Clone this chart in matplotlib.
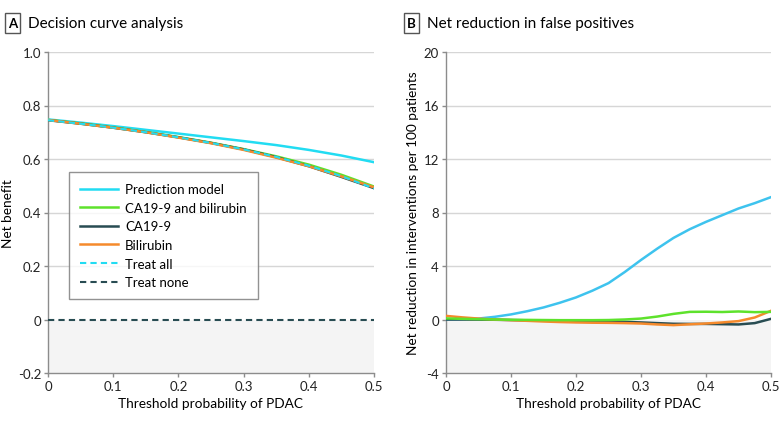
import matplotlib
matplotlib.use("Agg")
import matplotlib.pyplot as plt
from matplotlib.patches import Rectangle
import numpy as np

plt.rcParams['font.family'] = ['Lato', 'DejaVu Sans']

# threshold probabilities
thresh = [0, 0.05, 0.1, 0.15, 0.2, 0.25, 0.3, 0.35, 0.4, 0.45, 0.5]
thresh_b = [0, 0.025, 0.05, 0.075, 0.1, 0.125, 0.15, 0.175, 0.2, 0.225, 0.25,
            0.275, 0.3, 0.325, 0.35, 0.375, 0.4, 0.425, 0.45, 0.475, 0.5]

# Panel A: net benefit
nb_model = [0.748, 0.736, 0.723, 0.709, 0.695, 0.681, 0.667, 0.652, 0.634, 0.613, 0.588]
nb_combo = [0.746, 0.733, 0.718, 0.701, 0.682, 0.661, 0.637, 0.610, 0.579, 0.541, 0.497]
nb_ca199 = [0.745, 0.732, 0.717, 0.700, 0.681, 0.660, 0.636, 0.607, 0.573, 0.533, 0.491]
nb_bili = [0.746, 0.732, 0.717, 0.700, 0.680, 0.659, 0.634, 0.605, 0.573, 0.535, 0.494]
nb_all = [0.745, 0.732, 0.717, 0.700, 0.681, 0.660, 0.636, 0.608, 0.575, 0.536, 0.490]
nb_none = [0] * len(thresh)

# Panel B: net reduction in interventions per 100 patients
nr_model = [0.0, 0.02, 0.07, 0.2, 0.38, 0.62, 0.9, 1.25, 1.65, 2.15, 2.72,
            3.55, 4.45, 5.3, 6.1, 6.75, 7.3, 7.8, 8.3, 8.7, 9.15]
nr_combo = [0.08, 0.05, 0.02, 0.0, -0.02, -0.03, -0.04, -0.05, -0.05, -0.05, -0.04,
            0.0, 0.07, 0.22, 0.42, 0.57, 0.58, 0.56, 0.6, 0.55, 0.57]
nr_ca199 = [0.0, 0.0, -0.01, -0.02, -0.04, -0.06, -0.08, -0.1, -0.12, -0.13, -0.15,
            -0.18, -0.22, -0.27, -0.32, -0.33, -0.33, -0.35, -0.37, -0.27, 0.05]
nr_bili = [0.27, 0.16, 0.07, 0.0, -0.05, -0.1, -0.15, -0.19, -0.22, -0.24, -0.25,
           -0.27, -0.3, -0.37, -0.42, -0.36, -0.3, -0.22, -0.12, 0.15, 0.65]

c_model = '#22dcf2'
c_model_b = '#3ec3ee'
c_combo = '#5ee22c'
c_ca = '#284c52'
c_bili = '#f58a2c'
grid_c = '#d6d6d6'
spine_c = '#8c8c8c'

fig = plt.figure(figsize=(7.83, 4.31), dpi=100)
W, H = 783, 431
axA = fig.add_axes([48 / W, 1 - 374 / H, 326 / W, 321 / H])
axB = fig.add_axes([446 / W, 1 - 374 / H, 325 / W, 321 / H])


def style(ax, ymin, ymax, yticks, ylabels):
    ax.set_xlim(0, 0.5)
    ax.set_ylim(ymin, ymax)
    ax.axhspan(ymin, 0, color='#f4f4f4', zorder=0, lw=0)
    for yt in yticks:
        if yt != 0 and yt != ymin:
            ax.axhline(yt, color=grid_c, lw=1, zorder=1)
    ax.set_yticks(yticks)
    ax.set_yticklabels(ylabels)
    ax.set_xticks(thresh[::2])
    ax.set_xticklabels(['0', '0.1', '0.2', '0.3', '0.4', '0.5'])
    for s in ['top', 'right']:
        ax.spines[s].set_visible(False)
    for s in ['left', 'bottom']:
        ax.spines[s].set_color(spine_c)
        ax.spines[s].set_linewidth(1)
    ax.tick_params(colors='#222222', labelsize=9.5, length=3, width=1, color=spine_c, pad=2)
    ax.set_xlabel('Threshold probability of PDAC', fontsize=9.8, labelpad=4)


style(axA, -0.2, 1.0, [-0.2, 0, 0.2, 0.4, 0.6, 0.8, 1.0],
      ['-0.2', '0', '0.2', '0.4', '0.6', '0.8', '1.0'])
axA.plot(thresh, nb_model, color=c_model, lw=1.8, label='Prediction model', zorder=3)
axA.plot(thresh, nb_combo, color=c_combo, lw=1.8, label='CA19-9 and bilirubin', zorder=3)
axA.plot(thresh, nb_ca199, color=c_ca, lw=1.8, label='CA19-9', zorder=3)
axA.plot(thresh, nb_bili, color=c_bili, lw=1.8, label='Bilirubin', zorder=3)
axA.plot(thresh, nb_all, color=c_model, lw=1.5, ls=(0, (3, 2)), label='Treat all', zorder=4)
axA.plot(thresh, nb_none, color=c_ca, lw=1.5, ls=(0, (3, 2)), label='Treat none', zorder=4)
axA.set_ylabel('Net benefit', fontsize=9.8, labelpad=3)
leg = axA.legend(loc='lower left', bbox_to_anchor=(0.064, 0.229), fontsize=9.5,
                 frameon=True, fancybox=False, edgecolor='#777777', handlelength=2.9,
                 borderpad=0.85, labelspacing=0.5, handletextpad=0.5, borderaxespad=0)
leg.get_frame().set_linewidth(1)

style(axB, -4, 20, [-4, 0, 4, 8, 12, 16, 20],
      ['-4', '0', '4', '8', '12', '16', '20'])
axB.plot(thresh_b, nr_model, color=c_model_b, lw=1.8, zorder=3)
axB.plot(thresh_b, nr_ca199, color=c_ca, lw=1.8, zorder=3)
axB.plot(thresh_b, nr_bili, color=c_bili, lw=1.8, zorder=3)
axB.plot(thresh_b, nr_combo, color=c_combo, lw=1.8, zorder=3)
axB.set_ylabel('Net reduction in interventions per 100 patients', fontsize=9.8, labelpad=3)

# panel headers
for bx, letter, title in [(5, 'A', 'Decision curve analysis'), (404, 'B', 'Net reduction in false positives')]:
    fig.patches.append(Rectangle((bx / W, 1 - 34 / H), 15 / W, 20 / H, transform=fig.transFigure,
                                 fill=False, edgecolor='#555555', lw=1))
    fig.text((bx + 7.5) / W, 1 - 24 / H, letter, ha='center', va='center', fontsize=9.5, fontweight='bold')
    fig.text((bx + 23) / W, 1 - 24 / H, title, ha='left', va='center', fontsize=11)

fig.savefig('out.png', dpi=100)
